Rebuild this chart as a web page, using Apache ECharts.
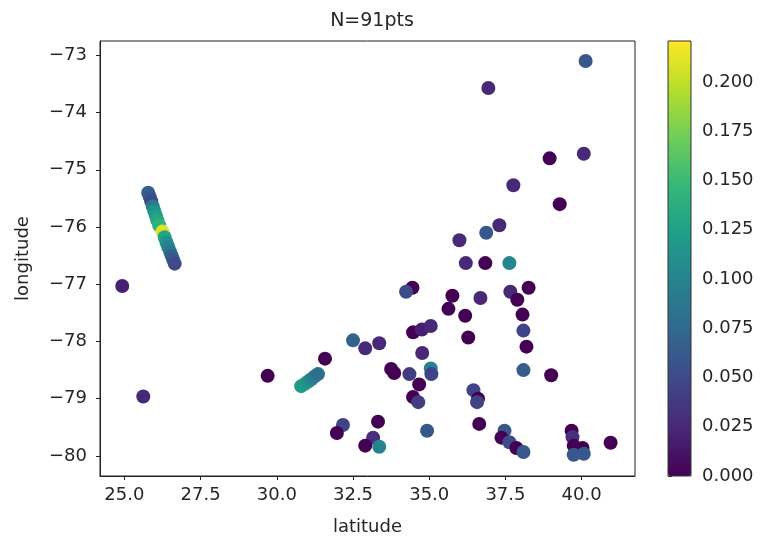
<!DOCTYPE html>
<html>
<head>
<meta charset="utf-8">
<script src="https://cdn.jsdelivr.net/npm/echarts@6/dist/echarts.min.js"></script>
<style>html,body{margin:0;padding:0;background:#fff}#c{width:763px;height:542px}</style>
</head>
<body>
<div id="c"></div>
<script>
// Streak near lat 26
const latStreakA = [25.78, 25.83, 25.88, 25.93, 25.98, 26.03, 26.08, 26.14, 26.25, 26.32, 26.38, 26.44, 26.50, 26.55, 26.60, 26.65];
const lonStreakA = [-75.40, -75.47, -75.55, -75.64, -75.72, -75.80, -75.88, -75.97, -76.08, -76.18, -76.27, -76.35, -76.43, -76.50, -76.57, -76.64];
const valStreakA = [0.07, 0.06, 0.05, 0.09, 0.11, 0.12, 0.13, 0.14, 0.21, 0.13, 0.11, 0.10, 0.09, 0.07, 0.06, 0.05];
// Streak near lat 31
const latStreakB = [30.80, 30.92, 31.03, 31.13, 31.24, 31.35];
const lonStreakB = [-78.78, -78.74, -78.70, -78.66, -78.61, -78.57];
const valStreakB = [0.12, 0.12, 0.11, 0.10, 0.09, 0.08];
// Other points
const latOther = [24.93, 25.62, 29.70, 31.58, 32.50, 32.90, 33.36, 34.47, 34.76, 35.05,
  34.77, 33.75, 33.85, 34.35, 35.05, 35.07, 34.67, 34.47, 34.64, 34.93,
  32.17, 31.97, 33.32, 33.16, 32.90, 33.36, 36.28, 38.09, 38.19, 38.09,
  39.00, 36.45, 36.60, 36.57, 36.64, 37.47, 37.37, 37.63, 37.86, 38.09,
  39.67, 39.70, 39.74, 40.03, 39.74, 40.07, 40.95, 40.13, 36.94, 38.95,
  40.07, 37.76, 39.28, 37.30, 36.87, 35.99, 36.20, 36.84, 37.63, 34.45,
  34.24, 35.76, 36.68, 37.66, 37.89, 38.26, 35.63, 36.18, 38.06];
const lonOther = [-77.03, -78.96, -78.60, -78.30, -77.98, -78.12, -78.03, -77.84, -77.79, -77.73,
  -78.20, -78.48, -78.55, -78.57, -78.47, -78.57, -78.75, -78.97, -79.06, -79.56,
  -79.46, -79.60, -79.40, -79.68, -79.82, -79.84, -77.93, -77.81, -78.09, -78.50,
  -78.59, -78.85, -79.00, -79.06, -79.44, -79.56, -79.68, -79.76, -79.86, -79.93,
  -79.56, -79.67, -79.82, -79.86, -79.98, -79.96, -79.77, -73.10, -73.57, -74.80,
  -74.72, -75.27, -75.60, -75.97, -76.10, -76.23, -76.63, -76.63, -76.63, -77.06,
  -77.13, -77.20, -77.24, -77.13, -77.27, -77.06, -77.43, -77.55, -77.53];
const valOther = [0.02, 0.025, 0.0, 0.0, 0.07, 0.025, 0.025, 0.0, 0.02, 0.025,
  0.025, 0.0, 0.0, 0.04, 0.10, 0.045, 0.0, 0.0, 0.04, 0.06,
  0.045, 0.0, 0.0, 0.03, 0.0, 0.10, 0.0, 0.045, 0.0, 0.065,
  0.0, 0.045, 0.0, 0.045, 0.0, 0.06, 0.0, 0.05, 0.0, 0.06,
  0.0, 0.03, 0.0, 0.0, 0.06, 0.06, 0.0, 0.06, 0.025, 0.0,
  0.025, 0.025, 0.0, 0.025, 0.06, 0.025, 0.025, 0.0, 0.10, 0.0,
  0.05, 0.0, 0.025, 0.025, 0.0, 0.0, 0.0, 0.0, 0.0];

const xTicks = [25, 27.5, 30, 32.5, 35, 37.5, 40];
const yTicks = [-80, -79, -78, -77, -76, -75, -74, -73];
const cTicks = [0, 0.025, 0.05, 0.075, 0.1, 0.125, 0.15, 0.175, 0.2];
const titleText = 'N=91pts';

const viridis = ['#440154', '#482878', '#3e4989', '#31688e', '#26828e', '#1f9e89', '#35b779', '#6ece58', '#b5de2b', '#fde725'];

const lat = latOther.concat(latStreakB, latStreakA);
const lon = lonOther.concat(lonStreakB, lonStreakA);
const val = valOther.concat(valStreakB, valStreakA);
const data = lat.map((v, i) => [v, lon[i], val[i]]);

const font = 'DejaVu Sans';
const txt = '#262626';
const fs = 18;
const chart = echarts.init(document.getElementById('c'), null, {renderer: 'canvas'});
chart.setOption({
  animation: false,
  backgroundColor: '#fff',
  title: {
    text: titleText, left: 367, top: 7, textAlign: 'center',
    textStyle: {fontFamily: font, fontSize: 19, fontWeight: 'normal', color: txt}
  },
  grid: [
    {left: 100, top: 41, width: 535, height: 435, show: true, borderColor: '#222', borderWidth: 1, backgroundColor: 'transparent', z: 10},
    {left: 668, top: 41, width: 23, height: 435, show: true, borderColor: '#333', borderWidth: 1, backgroundColor: 'transparent', z: 10}
  ],
  xAxis: [
    {
      type: 'value', gridIndex: 0, min: 24.2, max: 41.75,
      name: 'latitude', nameLocation: 'middle', nameGap: 42,
      nameTextStyle: {fontFamily: font, fontSize: fs, color: txt},
      axisLine: {show: true, lineStyle: {color: '#222'}},
      axisTick: {show: true, customValues: xTicks, length: 4, lineStyle: {color: '#222'}},
      axisLabel: {customValues: xTicks, formatter: v => v.toFixed(1), fontFamily: font, fontSize: fs, color: txt, margin: 10},
      splitLine: {show: false}
    },
    {type: 'value', gridIndex: 1, show: false, min: 0, max: 1}
  ],
  yAxis: [
    {
      type: 'value', gridIndex: 0, min: -80.35, max: -72.75,
      name: 'longitude', nameLocation: 'middle', nameGap: 68,
      nameTextStyle: {fontFamily: font, fontSize: fs, color: txt},
      axisLine: {show: true, lineStyle: {color: '#222'}},
      axisTick: {show: true, customValues: yTicks, length: 4, lineStyle: {color: '#222'}},
      axisLabel: {customValues: yTicks, formatter: v => '\u2212' + Math.abs(v), fontFamily: font, fontSize: fs, color: txt, margin: 13},
      splitLine: {show: false}
    },
    {
      type: 'value', gridIndex: 1, position: 'right', min: 0, max: 0.2208,
      axisLine: {show: false},
      axisTick: {show: true, customValues: cTicks, length: 4, lineStyle: {color: '#222'}},
      axisLabel: {customValues: cTicks, formatter: v => v.toFixed(3), fontFamily: font, fontSize: fs, color: txt, margin: 11},
      splitLine: {show: false}
    }
  ],
  visualMap: {
    type: 'continuous', min: 0, max: 0.2208, dimension: 2, seriesIndex: 0,
    inRange: {color: viridis},
    orient: 'vertical', left: 668, top: 41, itemWidth: 23, itemHeight: 435,
    padding: 0, text: null, calculable: false, hoverLink: false, z: 2
  },
  series: [{
    type: 'scatter', xAxisIndex: 0, yAxisIndex: 0,
    symbol: 'circle', symbolSize: 14,
    itemStyle: {opacity: 1},
    data: data
  }]
});
</script>
</body>
</html>
